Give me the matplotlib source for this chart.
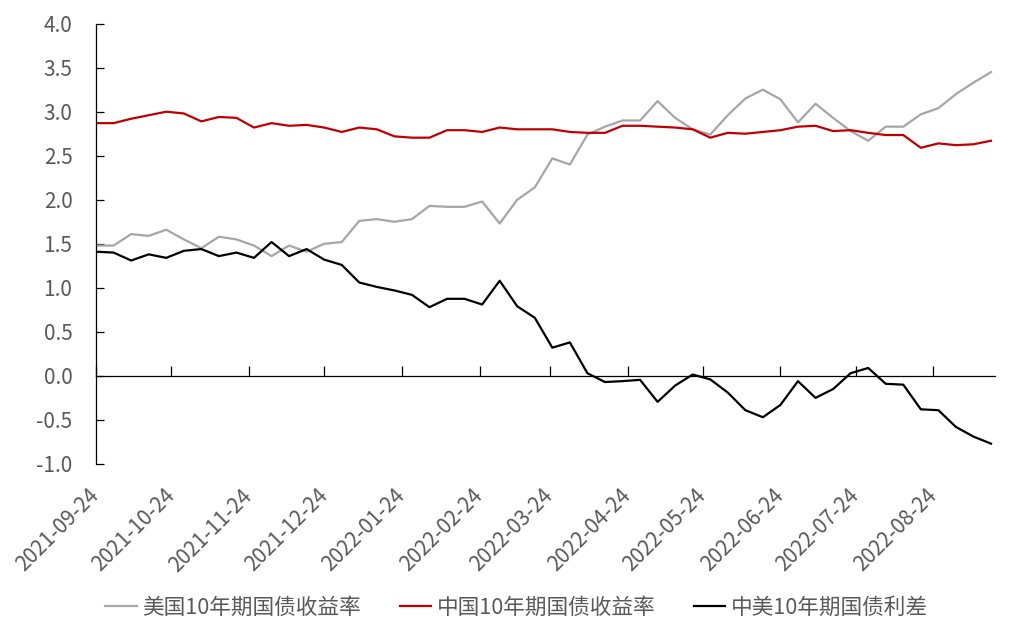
import numpy as np
import pandas as pd
import matplotlib
matplotlib.use("Agg")
import matplotlib.pyplot as plt

plt.rcParams['font.family'] = ['Noto Sans CJK SC', 'DejaVu Sans']

# weekly observations (Fridays)
dates = pd.date_range("2021-09-24", periods=52, freq="7D")

us_10y = [1.48, 1.48, 1.61, 1.59, 1.66, 1.55, 1.45, 1.58, 1.55, 1.48, 1.36, 1.48, 1.41, 1.50, 1.52,
          1.76, 1.78, 1.75, 1.78, 1.93, 1.92, 1.92, 1.98, 1.73, 2.00, 2.14, 2.47, 2.40, 2.74, 2.83,
          2.90, 2.90, 3.12, 2.93, 2.80, 2.74, 2.96, 3.15, 3.25, 3.14, 2.88, 3.09, 2.93, 2.78, 2.67,
          2.83, 2.83, 2.97, 3.04, 3.20, 3.33, 3.45]
cn_10y = [2.87, 2.87, 2.92, 2.96, 3.00, 2.98, 2.89, 2.94, 2.93, 2.82, 2.87, 2.84, 2.85, 2.82, 2.77,
          2.82, 2.80, 2.72, 2.705, 2.705, 2.79, 2.79, 2.77, 2.82, 2.80, 2.80, 2.80, 2.77, 2.76, 2.76,
          2.84, 2.84, 2.83, 2.82, 2.80, 2.705, 2.76, 2.75, 2.77, 2.79, 2.83, 2.84, 2.78, 2.79, 2.76,
          2.735, 2.735, 2.59, 2.64, 2.62, 2.63, 2.67]
spread = [1.41, 1.40, 1.31, 1.38, 1.34, 1.42, 1.44, 1.36, 1.40, 1.34, 1.52, 1.36, 1.44, 1.32, 1.26,
          1.06, 1.01, 0.97, 0.92, 0.78, 0.875, 0.875, 0.81, 1.08, 0.79, 0.66, 0.32, 0.38, 0.03, -0.07,
          -0.06, -0.045, -0.295, -0.11, 0.015, -0.04, -0.19, -0.39, -0.47, -0.33, -0.06, -0.25, -0.15,
          0.03, 0.09, -0.09, -0.10, -0.38, -0.39, -0.58, -0.69, -0.77]

tick_labels = ["2021-09-24", "2021-10-24", "2021-11-24", "2021-12-24", "2022-01-24", "2022-02-24",
               "2022-03-24", "2022-04-24", "2022-05-24", "2022-06-24", "2022-07-24", "2022-08-24"]
series_names = ["美国10年期国债收益率", "中国10年期国债收益率", "中美10年期国债利差"]

text_grey = "#595959"

fig = plt.figure(figsize=(10.33, 6.39), dpi=100)
ax = fig.add_axes([0.093, 0.274, 0.870, 0.689])

ax.plot(dates, us_10y, color="#A6A6A6", lw=1.6, label=series_names[0])
ax.plot(dates, cn_10y, color="#C00000", lw=1.6, label=series_names[1])
ax.plot(dates, spread, color="#000000", lw=1.6, label=series_names[2])

ax.set_ylim(-1.0, 4.0)
ax.set_yticks(np.arange(-1.0, 4.01, 0.5))
ax.set_yticklabels([f"{v:.1f}" for v in np.arange(-1.0, 4.01, 0.5)])
ax.set_xlim(dates[0], dates[-1] + pd.Timedelta(days=1.5))
ax.set_xticks(pd.to_datetime(tick_labels))
ax.set_xticklabels(tick_labels)

for s in ["top", "right"]:
    ax.spines[s].set_visible(False)
ax.spines["bottom"].set_position(("data", 0))
ax.spines["left"].set_linewidth(0.9)
ax.spines["bottom"].set_linewidth(0.9)

ax.tick_params(axis="y", direction="in", length=6, width=0.9, labelsize=15, labelcolor=text_grey, pad=17)
ax.tick_params(axis="x", direction="in", length=7, width=0.9, labelsize=15, labelcolor=text_grey, pad=84)

fig.legend(loc="center", bbox_to_anchor=(0.5, 0.049), ncol=3, frameon=False,
           fontsize=15.6, labelcolor=text_grey, handlelength=1.45, handletextpad=0.25,
           columnspacing=1.8)

fig.canvas.draw()
plt.setp(ax.get_xticklabels(), rotation=45, ha="right", va="center", rotation_mode="anchor")

fig.savefig("out.png", dpi=100)
